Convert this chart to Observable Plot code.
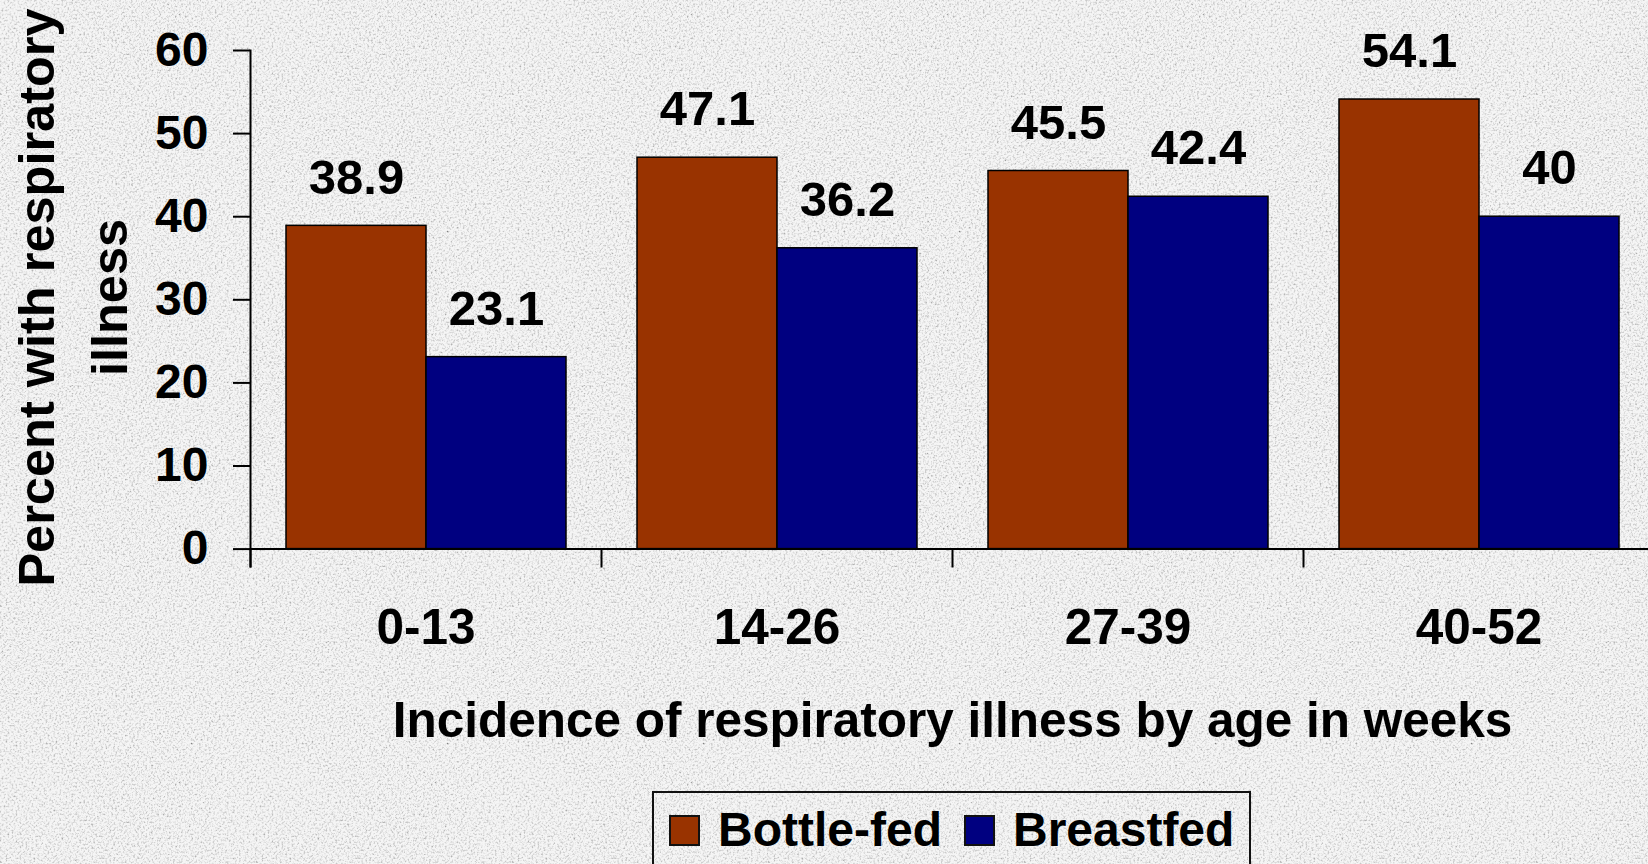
<!DOCTYPE html>
<html>
<head>
<meta charset="utf-8">
<script src="https://cdn.jsdelivr.net/npm/d3@7"></script>
<script src="https://cdn.jsdelivr.net/npm/@observablehq/plot@0.6"></script>
<style>
html, body { margin: 0; padding: 0; width: 1648px; height: 864px; overflow: hidden; }
body {
  position: relative;
  background-color: #ececec;
  background-image: url("data:image/svg+xml;utf8,<svg xmlns='http://www.w3.org/2000/svg' width='256' height='256'><filter id='n' x='0' y='0'><feTurbulence type='fractalNoise' baseFrequency='0.5' numOctaves='2' stitchTiles='stitch'/><feColorMatrix type='matrix' values='2.2 0 0 0 -0.2 2.2 0 0 0 -0.2 2.2 0 0 0 -0.2 0 0 0 0 0.45'/></filter><rect width='256' height='256' filter='url(%23n)'/></svg>");
  font-family: "Liberation Sans", Arial, sans-serif;
  font-weight: bold;
}
#chart { position: absolute; left: 0; top: 0; }
#legend {
  position: absolute; left: 652px; top: 791px; width: 599px; height: 110px;
  box-sizing: border-box; border: 2px solid #111;
  display: flex; align-items: flex-start; padding: 13px 0 0 15px;
}
#legend .sw { width: 31px; height: 31px; box-sizing: border-box; border: 2px solid #111; margin-top: 9px; flex: none; }
#legend .lb { font-size: 48px; line-height: 48px; margin-left: 18px; margin-right: 22px; color: #000; white-space: nowrap; }
</style>
</head>
<body>
<div id="chart"></div>
<div id="legend"></div>
<script>
const groups = ["0-13", "14-26", "27-39", "40-52"];
const series = ["Bottle-fed", "Breastfed"];
const bottleFed = [38.9, 47.1, 45.5, 54.1];
const breastfed = [23.1, 36.2, 42.4, 40];
const seriesColors = ["#993300", "#000080"];
const yTicks = [0, 10, 20, 30, 40, 50, 60];
const xTitle = "Incidence of respiratory illness by age in weeks";
const yTitle = "Percent with respiratory\nillness";

const data = groups.flatMap((g, i) => [
  {group: g, series: series[0], value: bottleFed[i]},
  {group: g, series: series[1], value: breastfed[i]}
]);

const W = 1654, H = 770, mL = 250, mT = 50, frameBottom = 566, yZero = 548.6;

const chart = Plot.plot({
  width: W,
  height: H,
  marginLeft: mL,
  marginRight: 0,
  marginTop: mT,
  marginBottom: H - frameBottom,
  style: {
    background: "transparent",
    fontFamily: "'Liberation Sans', Arial, sans-serif",
    fontSize: "48px",
    fontWeight: "bold",
    color: "black",
    maxWidth: "none",
    overflow: "visible"
  },
  fx: {domain: groups, padding: 0},
  x: {domain: series, padding: 0, insetLeft: 35, insetRight: 35, axis: null},
  y: {domain: [0, 60], insetBottom: frameBottom - yZero},
  color: {domain: series, range: seriesColors},
  marks: [
    Plot.barY(data, {fx: "group", x: "series", y: "value", fill: "series", stroke: "black", strokeWidth: 1.5}),
    Plot.ruleY([0], {stroke: "black", strokeWidth: 2}),
    Plot.frame({anchor: "left", facetAnchor: "left", stroke: "black", strokeWidth: 2}),
    Plot.frame({anchor: "left", insetTop: yZero - mT, stroke: "black", strokeWidth: 2}),
    Plot.axisY({ticks: yTicks, tickSize: 17, tickPadding: 25, strokeWidth: 2, label: null}),
    Plot.axisFx({anchor: "bottom", tickSize: 0, tickPadding: 42, fontSize: 49.5, label: xTitle, labelAnchor: "center", labelOffset: 170}),
    Plot.text(data, {fx: "group", x: "series", y: "value", text: d => String(d.value), dy: -48, fontSize: 49, fill: "black"}),
    Plot.text([yTitle], {text: d => d, frameAnchor: "left", facetAnchor: "left", rotate: -90, textAnchor: "middle", lineAnchor: "top", fontSize: 50.5, lineHeight: 1.44, dx: -248, dy: -11, fill: "black"})
  ]
});
document.getElementById("chart").appendChild(chart);

const legend = document.getElementById("legend");
series.forEach((s, i) => {
  const sw = document.createElement("div");
  sw.className = "sw";
  sw.style.background = seriesColors[i];
  const lb = document.createElement("div");
  lb.className = "lb";
  lb.textContent = s;
  legend.appendChild(sw);
  legend.appendChild(lb);
});
</script>
</body>
</html>
